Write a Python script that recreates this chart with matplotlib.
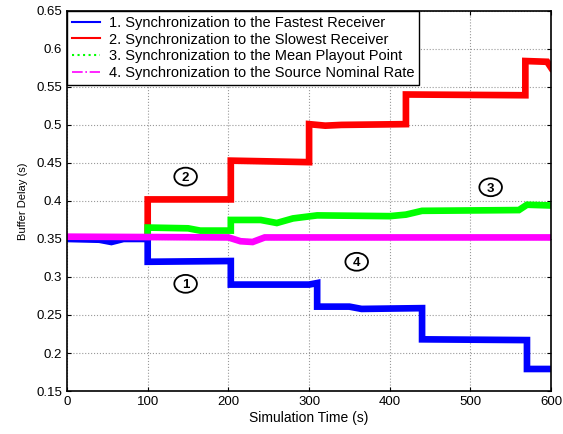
import numpy as np
import matplotlib.pyplot as plt
from matplotlib.lines import Line2D
from matplotlib.patches import Ellipse

plt.rcParams['font.family'] = ['Liberation Sans', 'DejaVu Sans']

# step vertices (time in s, buffer delay in s)
fast_t = [0, 40, 55, 70, 100, 100, 203, 203, 300, 310, 310, 350, 365, 440, 440, 570, 570, 600]
fast_y = [0.350, 0.349, 0.346, 0.350, 0.350, 0.320, 0.321, 0.290, 0.290, 0.292, 0.261, 0.261, 0.258, 0.259, 0.218, 0.217, 0.179, 0.179]

slow_t = [0, 100, 100, 203, 203, 300, 300, 320, 340, 420, 420, 568, 568, 595, 600]
slow_y = [0.351, 0.352, 0.402, 0.402, 0.453, 0.451, 0.501, 0.499, 0.500, 0.501, 0.540, 0.539, 0.584, 0.583, 0.575]

mean_t = [0, 100, 100, 150, 165, 203, 203, 240, 260, 280, 310, 400, 420, 440, 560, 570, 600]
mean_y = [0.351, 0.352, 0.365, 0.364, 0.361, 0.361, 0.375, 0.375, 0.371, 0.377, 0.381, 0.380, 0.382, 0.387, 0.388, 0.395, 0.394]

src_t = [0, 200, 215, 230, 245, 600]
src_y = [0.353, 0.352, 0.347, 0.346, 0.352, 0.352]

labels = ['1. Synchronization to the Fastest Receiver',
          '2. Synchronization to the Slowest Receiver',
          '3. Synchronization to the Mean Playout Point',
          '4. Synchronization to the Source Nominal Rate']

marks = ['1', '2', '3', '4']
mark_x = [147, 147, 525, 359]
mark_y = [0.291, 0.432, 0.418, 0.320]

fig = plt.figure(figsize=(5.63, 4.34), dpi=100)
ax = fig.add_axes([0.119, 0.099, 0.860, 0.876])

lw = 4.8
ax.plot(slow_t, slow_y, color='#ff0000', lw=lw, solid_joinstyle='miter')
ax.plot(mean_t, mean_y, color='#00ff00', lw=lw, solid_joinstyle='miter')
ax.plot(fast_t, fast_y, color='#0000ff', lw=lw, solid_joinstyle='miter')
ax.plot(src_t, src_y, color='#ff00ff', lw=lw, solid_joinstyle='miter')

# circled labels (image is a bit wider than tall, so ellipses)
for m, x, y in zip(marks, mark_x, mark_y):
    ax.add_patch(Ellipse((x, y), 28, 0.0235, fc='white', ec='black', lw=1.3, zorder=5))
    ax.text(x, y, m, ha='center', va='center_baseline', fontsize=9.5, fontweight='bold', zorder=6)

ax.set_xlim(0, 600)
ax.set_ylim(0.15, 0.65)
ax.set_xticks(np.arange(0, 601, 100))
ax.set_yticks(np.arange(0.15, 0.651, 0.05))
ax.set_yticklabels(['0.15', '0.2', '0.25', '0.3', '0.35', '0.4', '0.45', '0.5', '0.55', '0.6', '0.65'])
ax.tick_params(direction='in', top=True, right=True, labelsize=9.5, length=3)
ax.grid(True, color='#999999', linestyle=':', linewidth=0.8)
for s in ax.spines.values():
    s.set_linewidth(1.2)
ax.set_xlabel('Simulation Time (s)', fontsize=10, labelpad=2)
ax.set_ylabel('Buffer Delay (s)', fontsize=8, labelpad=6)

handles = [Line2D([], [], color='#0000ff', lw=1.5),
           Line2D([], [], color='#ff0000', lw=1.5),
           Line2D([], [], color='#00ff00', lw=1.5, ls=':'),
           Line2D([], [], color='#ff00ff', lw=1.2, ls='-.')]
leg = ax.legend(handles, labels, loc='upper left', bbox_to_anchor=(0, 1), fontsize=10.5,
                fancybox=False, framealpha=1, edgecolor='black', borderaxespad=0,
                handlelength=1.9, handletextpad=0.6, labelspacing=0.18, borderpad=0.35)
leg.get_frame().set_linewidth(1.0)

fig.savefig('out.png', dpi=100)
